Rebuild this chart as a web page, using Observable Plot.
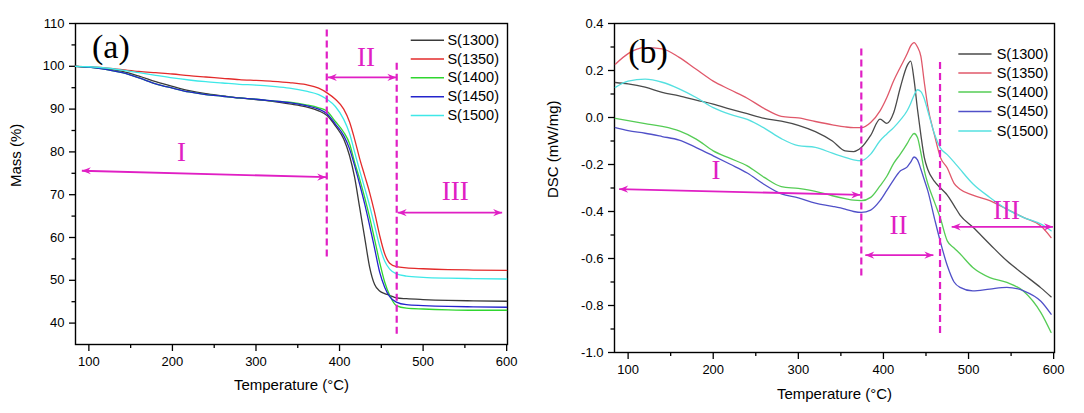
<!DOCTYPE html>
<html><head><meta charset="utf-8">
<script src="https://cdn.jsdelivr.net/npm/d3@7"></script>
<script src="https://cdn.jsdelivr.net/npm/@observablehq/plot@0.6"></script>
<style>
body{margin:0;background:#fff;}
#wrap{display:flex;width:1084px;height:413px;overflow:hidden;}
</style></head><body><div id="wrap"><div id="a"></div><div id="b"></div></div>
<script>
// ---------- shared ----------
const series = ["S(1300)", "S(1350)", "S(1400)", "S(1450)", "S(1500)"];
const colorsA = ["#3a3a3a", "#e32b2b", "#2fd62f", "#2424cc", "#3ee8e8"];
const colorsB = ["#4a4a4a", "#e0586a", "#55cc55", "#5050c8", "#55e0e0"];
const magenta = "#e01fc4";
const xTicks = [100, 200, 300, 400, 500, 600];
const xMinor = [150, 250, 350, 450, 550];

// ---------- (a) TGA ----------
const tgaT = [84, 100, 120, 140, 160, 180, 200, 220, 240, 260, 280, 300, 320, 340, 360, 375, 385, 395, 405, 412, 418, 424, 430, 436, 442, 448, 454, 460, 468, 480, 500, 530, 560, 600];
const tga1300 = [100, 99.8, 99.4, 98.8, 97.7, 96.4, 95.3, 94.3, 93.6, 93.1, 92.6, 92.2, 91.8, 91.2, 90.5, 89.6, 88.5, 86.1, 83.0, 79.1, 74.1, 67.1, 60.1, 53.1, 49.0, 47.5, 46.9, 46.5, 45.9, 45.7, 45.5, 45.3, 45.2, 45.1];
const tga1350 = [100, 99.9, 99.6, 99.2, 98.8, 98.5, 98.2, 97.8, 97.5, 97.2, 96.9, 96.7, 96.5, 96.2, 95.7, 94.9, 93.8, 92.3, 90.0, 87.0, 83.0, 78.5, 74.5, 70.5, 65.8, 60.5, 56.2, 54.0, 53.2, 52.9, 52.7, 52.5, 52.4, 52.3];
const tga1400 = [100, 99.8, 99.3, 98.5, 97.3, 95.9, 94.9, 94.0, 93.4, 93.0, 92.6, 92.3, 91.9, 91.6, 91.0, 90.3, 89.5, 87.1, 84.6, 81.9, 77.6, 73.7, 69.4, 64.7, 59.5, 54.2, 49.6, 46.5, 44.1, 43.5, 43.3, 43.1, 43.0, 43.0];
const tga1450 = [100, 99.8, 99.3, 98.5, 97.3, 95.9, 94.9, 94.0, 93.4, 93.0, 92.6, 92.3, 91.9, 91.5, 90.8, 90.0, 88.9, 86.5, 83.8, 80.7, 76.8, 72.5, 67.9, 62.8, 57.4, 51.9, 48.4, 46.2, 44.9, 44.3, 44.1, 43.9, 43.8, 43.7];
const tga1500 = [100, 99.9, 99.6, 99.1, 98.5, 97.9, 97.3, 96.8, 96.4, 96.1, 95.8, 95.6, 95.3, 94.9, 94.2, 93.4, 92.3, 90.6, 87.6, 84.3, 80.0, 75.7, 71.6, 67.4, 62.7, 58.0, 54.5, 52.6, 51.5, 51.0, 50.7, 50.5, 50.4, 50.3];
const tgaYTicks = [40, 50, 60, 70, 80, 90, 100, 110];
const tgaYMinor = [45, 55, 65, 75, 85, 95, 105];
const tgaBounds = [{T: 384.7, y1: 108.5, y2: 55.4}, {T: 468.4, y1: 100.7, y2: 36.9}];
const tgaArrows = [
  {x1: 91.6, y1: 75.6, x2: 384, y2: 74.1},
  {x1: 386, y1: 97.4, x2: 468, y2: 97.4},
  {x1: 469.6, y1: 65.8, x2: 594.6, y2: 65.8}
];
const tgaRegions = [{T: 211, v: 79.9, t: "I"}, {T: 431.7, v: 102, t: "II"}, {T: 538.4, v: 70.8, t: "III"}];
const tgaLegendY = [106.1, 101.7, 97.3, 92.9, 88.5];

// ---------- (b) DSC ----------
const dscT = [85, 100, 120, 140, 160, 180, 200, 220, 240, 260, 280, 300, 320, 340, 355, 365, 374, 385, 396, 404, 412, 420, 428, 432, 436, 440, 444, 448, 452, 460, 467, 475, 483, 490, 505, 525, 545, 565, 585, 597];
const dsc1300 = [0.149, 0.143, 0.129, 0.107, 0.092, 0.074, 0.057, 0.036, 0.016, -0.004, -0.015, -0.033, -0.060, -0.100, -0.142, -0.145, -0.128, -0.076, -0.007, -0.025, 0.020, 0.130, 0.222, 0.240, 0.160, 0.035, -0.075, -0.170, -0.220, -0.272, -0.300, -0.330, -0.375, -0.415, -0.466, -0.539, -0.610, -0.668, -0.725, -0.763];
const dsc1350 = [0.227, 0.272, 0.297, 0.292, 0.256, 0.205, 0.155, 0.118, 0.082, 0.038, 0.005, -0.002, -0.017, -0.031, -0.040, -0.043, -0.043, -0.021, 0.028, 0.085, 0.156, 0.215, 0.272, 0.305, 0.319, 0.300, 0.260, 0.150, 0.050, -0.075, -0.170, -0.215, -0.280, -0.305, -0.330, -0.354, -0.390, -0.426, -0.462, -0.511];
const dsc1400 = [-0.004, -0.013, -0.026, -0.038, -0.057, -0.092, -0.142, -0.174, -0.206, -0.255, -0.294, -0.302, -0.314, -0.333, -0.345, -0.352, -0.354, -0.340, -0.291, -0.250, -0.195, -0.155, -0.110, -0.085, -0.068, -0.085, -0.150, -0.225, -0.280, -0.360, -0.430, -0.525, -0.555, -0.580, -0.638, -0.681, -0.702, -0.740, -0.830, -0.915];
const dsc1450 = [-0.043, -0.056, -0.067, -0.081, -0.096, -0.128, -0.163, -0.199, -0.236, -0.285, -0.325, -0.342, -0.364, -0.378, -0.390, -0.400, -0.404, -0.394, -0.354, -0.310, -0.265, -0.227, -0.210, -0.190, -0.168, -0.180, -0.220, -0.265, -0.310, -0.430, -0.530, -0.630, -0.700, -0.723, -0.738, -0.730, -0.723, -0.738, -0.782, -0.837];
const dsc1500 = [0.128, 0.155, 0.163, 0.150, 0.122, 0.085, 0.042, 0.013, -0.008, -0.045, -0.090, -0.120, -0.127, -0.152, -0.170, -0.180, -0.184, -0.156, -0.099, -0.070, -0.043, -0.010, 0.030, 0.060, 0.095, 0.118, 0.110, 0.080, 0.030, -0.070, -0.130, -0.158, -0.190, -0.220, -0.282, -0.340, -0.390, -0.426, -0.454, -0.482];
const dscYTicks = [-1.0, -0.8, -0.6, -0.4, -0.2, 0.0, 0.2, 0.4];
const dscYMinor = [-0.9, -0.7, -0.5, -0.3, -0.1, 0.1, 0.3];
const dscBounds = [{T: 374, y1: 0.291, y2: -0.674}, {T: 466.5, y1: 0.234, y2: -0.929}];
const dscArrows = [
  {x1: 89.5, y1: -0.305, x2: 372.8, y2: -0.329},
  {x1: 378.7, y1: -0.586, x2: 458.7, y2: -0.586},
  {x1: 480.2, y1: -0.465, x2: 599.2, y2: -0.465}
];
const dscRegions = [{T: 203.4, v: -0.227, t: "I"}, {T: 417.7, v: -0.461, t: "II"}, {T: 544.6, v: -0.394, t: "III"}];
const dscLegendY = [0.270, 0.189, 0.109, 0.026, -0.057];

// ---------- helpers ----------
function tidy(T, arrays) {
  const rows = [];
  arrays.forEach((arr, i) => arr.forEach((v, j) => rows.push({T: T[j], v, s: series[i]})));
  return rows;
}
const headSymbol = {
  draw(ctx, size) {
    const r = Math.sqrt(size / Math.PI);
    ctx.moveTo(0, 0);
    ctx.lineTo(-2 * r, -0.8 * r);
    ctx.lineTo(-1.35 * r, 0);
    ctx.lineTo(-2 * r, 0.8 * r);
    ctx.closePath();
  }
};
const sans = "'Liberation Sans', Arial, sans-serif";
const serif = "'Liberation Serif', 'Times New Roman', serif";

function panel(o) {
  const legendRows = series.map((s, i) => ({s, y: o.legendY[i]}));
  return Plot.plot({
    width: o.width, height: 413,
    marginLeft: o.ml, marginRight: o.mr, marginTop: 23, marginBottom: o.mb,
    x: {domain: [84, 601]},
    y: {domain: o.yDomain},
    color: {domain: series, range: o.colors},
    style: {fontFamily: sans, fontSize: "13px", color: "black", background: "white", overflow: "visible"},
    marks: [
      Plot.axisX({ticks: xTicks, tickSize: 7, tickPadding: 5, label: null, strokeWidth: 1.3, fontSize: 13}),
      Plot.axisX({ticks: xMinor, tickSize: 4, tickFormat: () => "", label: null, strokeWidth: 1.3}),
      Plot.axisY({ticks: o.yTicks, tickSize: 6, tickPadding: 5, label: null, strokeWidth: 1.3, tickFormat: o.yFormat, fontSize: 13}),
      Plot.axisY({ticks: o.yMinor, tickSize: 3.5, tickFormat: () => "", label: null, strokeWidth: 1.3}),
      Plot.frame({stroke: "black", strokeWidth: 1.4}),
      Plot.line(o.rows, {x: "T", y: "v", stroke: "s", z: "s", strokeWidth: 1.3, curve: "monotone-x"}),
      Plot.ruleX(o.bounds, {x: "T", y1: "y1", y2: "y2", stroke: magenta, strokeWidth: 2.2, strokeDasharray: "7,4"}),
      Plot.link(o.arrows, {x1: "x1", y1: "y1", x2: "x2", y2: "y2", stroke: magenta, strokeWidth: 1.8}),
      Plot.dot(o.arrows, {x: "x2", y: "y2", symbol: headSymbol, r: 4.5, fill: magenta, stroke: "none", rotate: 0}),
      Plot.dot(o.arrows, {x: "x1", y: "y1", symbol: headSymbol, r: 4.5, fill: magenta, stroke: "none", rotate: 180}),
      Plot.text(o.regions, {x: "T", y: "v", text: "t", fill: magenta, fontFamily: serif, fontSize: 27, lineAnchor: "middle"}),
      Plot.text([o.tag], {x: o.tagPos[0], y: o.tagPos[1], text: d => d, fontFamily: serif, fontSize: 34, lineAnchor: "middle"}),
      Plot.link(legendRows, {x1: o.legX[0], x2: o.legX[1], y1: "y", y2: "y", stroke: "s", strokeWidth: 1.5}),
      Plot.text(legendRows, {x: o.legX[2], y: "y", text: "s", textAnchor: "start", lineAnchor: "middle", fontSize: 14.5, fill: "black"}),
      Plot.text(["Temperature (°C)"], {frameAnchor: "bottom", dy: o.xTitleDy, text: d => d, fontSize: 15, lineAnchor: "middle", fill: "black"}),
      Plot.text([o.yTitle], {frameAnchor: "left", dx: o.yTitleDx, dy: o.yTitleDy, rotate: -90, text: d => d, fontSize: 15, lineAnchor: "middle", fill: "black"})
    ]
  });
}

const tgaRows = tidy(tgaT, [tga1300, tga1350, tga1400, tga1450, tga1500]);
const dscRows = tidy(dscT, [dsc1300, dsc1350, dsc1400, dsc1450, dsc1500]);

document.getElementById("a").append(panel({
  width: 540, ml: 75, mr: 33, mb: 69, yDomain: [35, 110], colors: colorsA,
  yTicks: tgaYTicks, yMinor: tgaYMinor, yFormat: d => String(d),
  rows: tgaRows, bounds: tgaBounds, arrows: tgaArrows, regions: tgaRegions,
  tag: "(a)", tagPos: [126.3, 104.4], legendY: tgaLegendY, legX: [485.2, 525, 529.1],
  xTitleDy: 41, yTitle: "Mass (%)", yTitleDx: -59.5, yTitleDy: 3
}));
document.getElementById("b").append(panel({
  width: 544, ml: 74, mr: 30, mb: 61, yDomain: [-1.0, 0.4], colors: colorsB,
  yTicks: dscYTicks, yMinor: dscYMinor, yFormat: d => d.toFixed(1),
  rows: dscRows, bounds: dscBounds, arrows: dscArrows, regions: dscRegions,
  tag: "(b)", tagPos: [123.4, 0.277], legendY: dscLegendY, legX: [488, 527, 533],
  xTitleDy: 41.5, yTitle: "DSC (mW/mg)", yTitleDx: -61, yTitleDy: 10
}));
</script></body></html>
